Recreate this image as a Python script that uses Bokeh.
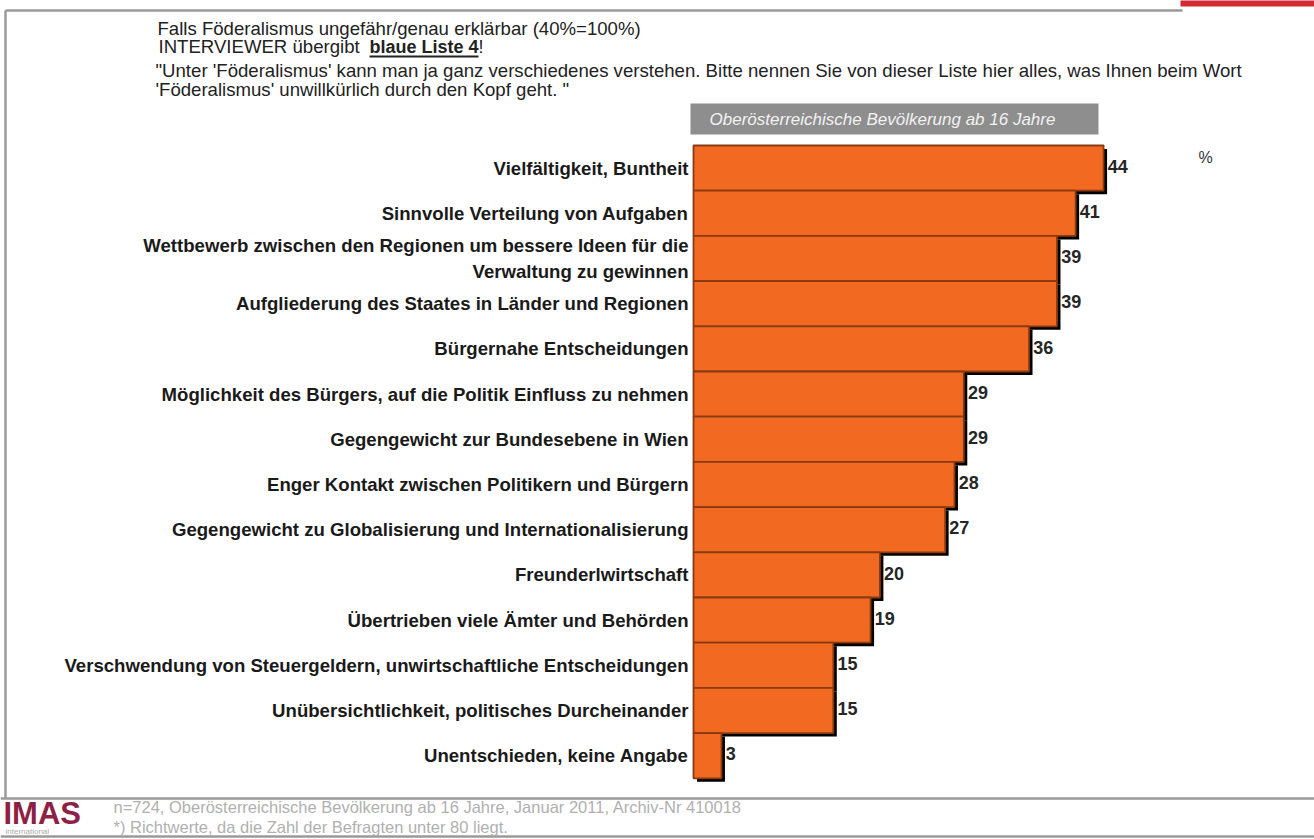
from bokeh.plotting import figure
from bokeh.models import Range1d, ColumnDataSource, Label
from bokeh.core.properties import value
from bokeh.embed import file_html
from bokeh.resources import INLINE

categories = [
    "Vielfältigkeit, Buntheit",
    "Sinnvolle Verteilung von Aufgaben",
    "Wettbewerb zwischen den Regionen um bessere Ideen für die\nVerwaltung zu gewinnen",
    "Aufgliederung des Staates in Länder und Regionen",
    "Bürgernahe Entscheidungen",
    "Möglichkeit des Bürgers, auf die Politik Einfluss zu nehmen",
    "Gegengewicht zur Bundesebene in Wien",
    "Enger Kontakt zwischen Politikern und Bürgern",
    "Gegengewicht zu Globalisierung und Internationalisierung",
    "Freunderlwirtschaft",
    "Übertrieben viele Ämter und Behörden",
    "Verschwendung von Steuergeldern, unwirtschaftliche Entscheidungen",
    "Unübersichtlichkeit, politisches Durcheinander",
    "Unentschieden, keine Angabe",
]
values = [44, 41, 39, 39, 36, 29, 29, 28, 27, 20, 19, 15, 15, 3]

header_lines = [
    "Falls Föderalismus ungefähr/genau erklärbar (40%=100%)",
    " INTERVIEWER übergibt ",
    "\"Unter 'Föderalismus' kann man ja ganz verschiedenes verstehen. Bitte nennen Sie von dieser Liste hier alles, was Ihnen beim Wort",
    "'Föderalismus' unwillkürlich durch den Kopf geht. \"",
]
header_bold = "blaue Liste 4"
header_end = "!"
group_label = "Oberösterreichische Bevölkerung ab 16 Jahre"
unit_label = "%"
footer_lines = [
    "n=724, Oberösterreichische Bevölkerung ab 16 Jahre, Januar 2011, Archiv-Nr 410018",
    "*) Richtwerte, da die Zahl der Befragten unter 80 liegt.",
]

W, H = 1314, 839
KX = 9.32          # px per percent
PITCH = 45.2       # px per bar
X0PX = 693         # px of value 0
Y0PX = 145         # px of top of first bar

x_start = -X0PX / KX
x_end = x_start + W / KX
y_top = -(Y0PX + PITCH / 2) / PITCH
y_bottom = y_top + H / PITCH

def dx(px):
    return x_start + px / KX

def dy(py):
    return y_top + py / PITCH

p = figure(width=W, height=H, output_backend="svg", toolbar_location=None,
           x_range=Range1d(x_start, x_end), y_range=Range1d(y_bottom, y_top),
           min_border=0, outline_line_color=None, background_fill_color="white",
           border_fill_color="white")
p.axis.visible = False
p.grid.visible = False

idx = list(range(len(values)))
sx = 3.5 / KX
sy = 3.5 / PITCH
src = ColumnDataSource(dict(
    y=idx, v=values, cat=categories,
    ys=[i + sy for i in idx], vs=[v + sx for v in values],
    x0s=[sx] * len(values),
    lx=[v + 0.45 for v in values],
    ly=[i - 0.04 for i in idx],
    labx=[dx(688)] * len(values),
    txt=[str(v) for v in values],
))

# shadow
p.hbar(y="ys", left="x0s", right="vs", height=1.0, source=src,
       fill_color="black", line_color=None)
# bars
p.hbar(y="y", left=0, right="v", height=1.0, source=src,
       fill_color="#f26a21", line_color="#8a3a12", line_width=1.8)

p.text(x="labx", y="y", text="cat", source=src, text_align="right",
       text_baseline="middle", text_font=value("Liberation Sans"),
       text_font_style="bold", text_font_size="18.6px", text_color="#1a1a1a",
       text_line_height=1.25)
p.text(x="lx", y="ly", text="txt", source=src, text_align="left",
       text_baseline="middle", text_font=value("Liberation Sans"),
       text_font_style="bold", text_font_size="18px", text_color="#262626")

# frame lines
p.segment(x0=[dx(5), dx(5), dx(0)], y0=[dy(10), dy(10), dy(798)],
          x1=[dx(1182), dx(5), dx(1314)], y1=[dy(10), dy(798), dy(798)],
          line_color="#9a9a9a", line_width=2.5)
p.segment(x0=[dx(0)], y0=[dy(836)], x1=[dx(1314)], y1=[dy(836)],
          line_color="#9a9a9a", line_width=2.5)
p.quad(left=[dx(1180)], right=[dx(1314)], top=[dy(-1)], bottom=[dy(6)],
       fill_color="#d42a36", line_color=None)

# header box
p.quad(left=[dx(690)], right=[dx(1098)], top=[dy(103)], bottom=[dy(134)],
       fill_color="#8e8e8e", line_color=None)
p.add_layout(Label(x=dx(882), y=dy(119), text=group_label, text_align="center",
                   text_baseline="middle", text_font="Liberation Sans",
                   text_font_style="italic", text_font_size="17px",
                   text_color="#f2f2f2"))

p.add_layout(Label(x=dx(1205), y=dy(157), text=unit_label, text_align="center",
                   text_baseline="middle", text_font="Liberation Sans",
                   text_font_size="16px", text_color="#333333"))

hx = [157, 158, 155, 155]
hy = [28, 46, 70, 89]
for t, x, y in zip(header_lines, hx, hy):
    p.add_layout(Label(x=dx(x), y=dy(y), text=t, text_align="left",
                       text_baseline="middle", text_font="Liberation Sans",
                       text_font_size="18.6px", text_color="#222222"))
p.add_layout(Label(x=dx(369), y=dy(46), text=header_bold, text_align="left",
                   text_baseline="middle", text_font="Liberation Sans",
                   text_font_style="bold", text_font_size="18px",
                   text_color="#222222"))
p.add_layout(Label(x=dx(478), y=dy(46), text=header_end, text_align="left",
                   text_baseline="middle", text_font="Liberation Sans",
                   text_font_size="18px", text_color="#222222"))
p.segment(x0=[dx(369)], y0=[dy(56)], x1=[dx(478)], y1=[dy(56)],
          line_color="#222222", line_width=1.8)

# footer
p.add_layout(Label(x=dx(3), y=dy(813), text="IMAS", text_align="left",
                   text_baseline="middle", text_font="Liberation Sans",
                   text_font_style="bold", text_font_size="31px",
                   text_color="#8e1f45"))
p.add_layout(Label(x=dx(5), y=dy(831), text="international", text_align="left",
                   text_baseline="middle", text_font="Liberation Sans",
                   text_font_size="8px", text_color="#aaaaaa"))
for t, y in zip(footer_lines, [806, 826]):
    p.add_layout(Label(x=dx(113), y=dy(y), text=t, text_align="left",
                       text_baseline="middle", text_font="Liberation Sans",
                       text_font_size="16.5px", text_color="#b0b0b0"))

open("out.html", "w").write(file_html(p, INLINE))
